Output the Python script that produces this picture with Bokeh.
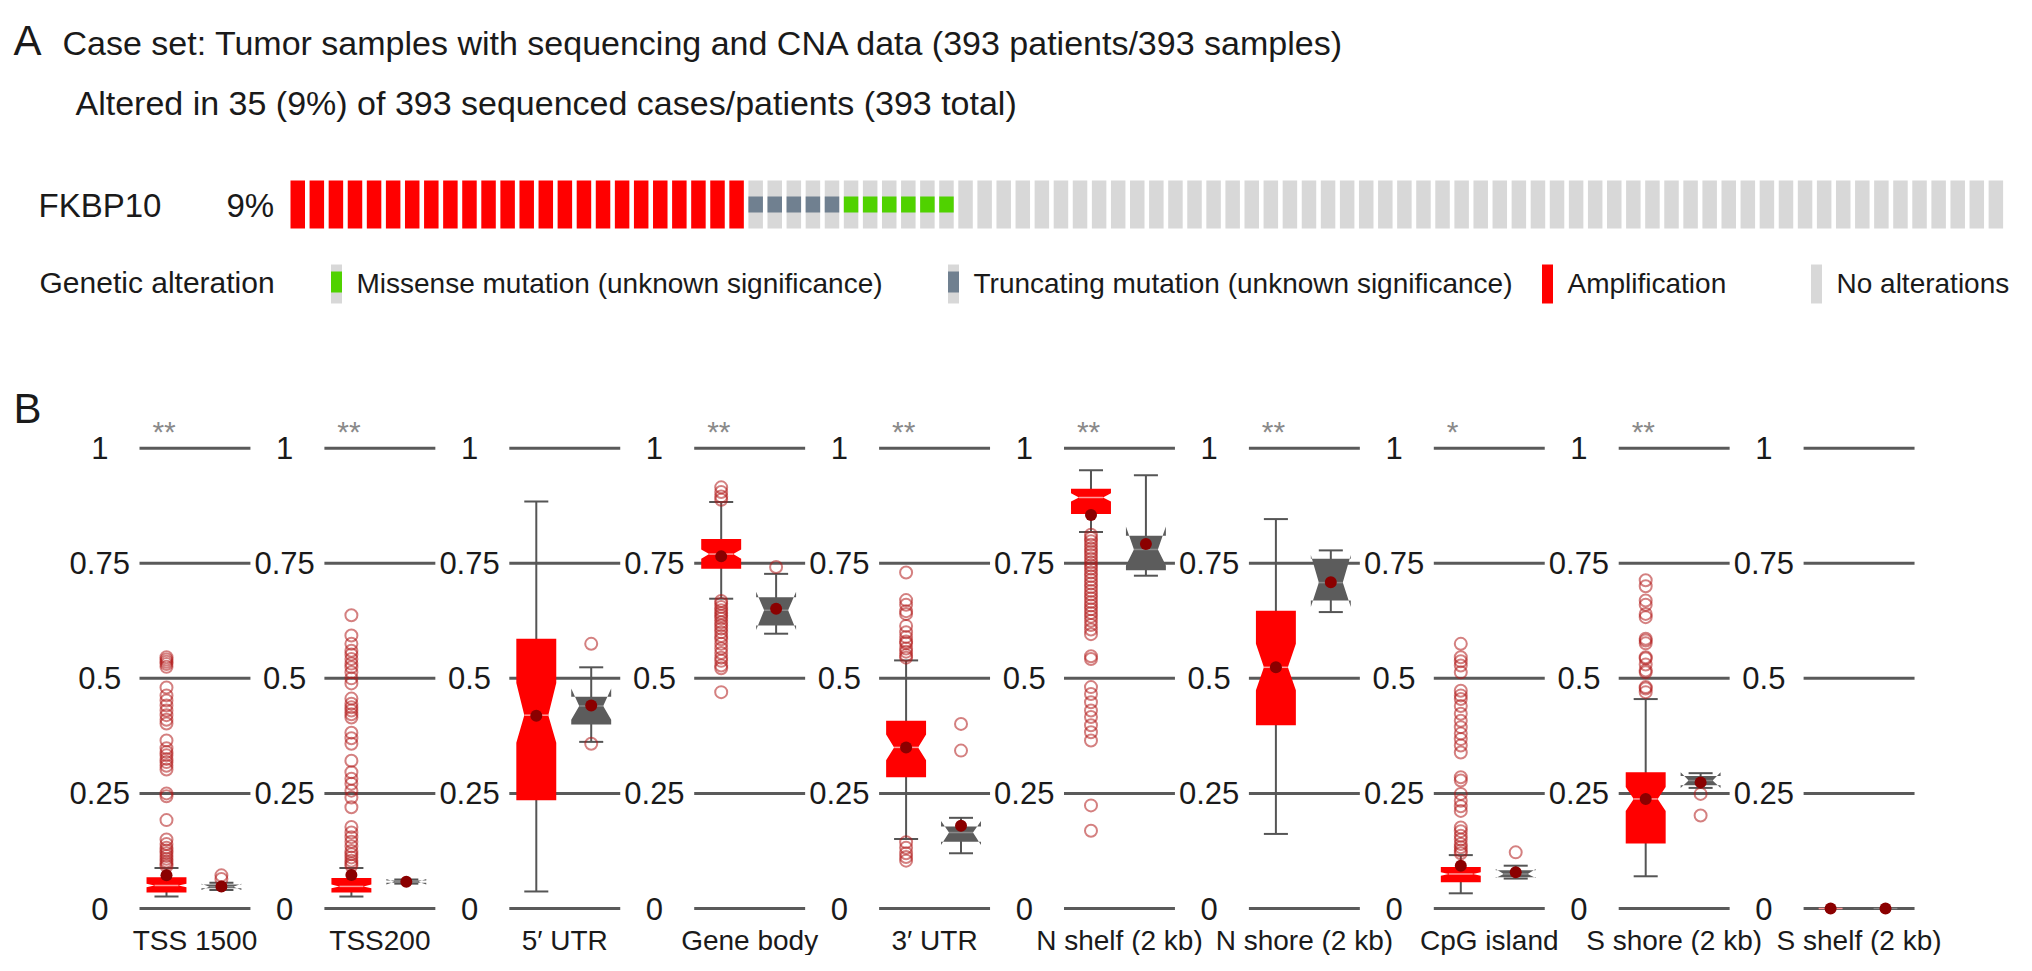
from bokeh.plotting import figure
from bokeh.models import Range1d, ColumnDataSource
from bokeh.layouts import column
from bokeh.embed import file_html
from bokeh.resources import INLINE
from bokeh.core.properties import value

FONT = "Liberation Sans"

# ---------------- Panel A data ----------------
case_set_text = "Case set: Tumor samples with sequencing and CNA data (393 patients/393 samples)"
altered_text = "Altered in 35 (9%) of 393 sequenced cases/patients (393 total)"
gene_name = "FKBP10"
gene_pct = "9%"
alteration_types = ["Amplification",
                    "Truncating mutation (unknown significance)",
                    "Missense mutation (unknown significance)",
                    "No alterations"]
alteration_counts = [24, 5, 6, 55]
legend_title = "Genetic alteration"
legend_order = ["Missense mutation (unknown significance)",
                "Truncating mutation (unknown significance)",
                "Amplification",
                "No alterations"]

# ---------------- Panel B data ----------------
regions = ["TSS 1500", "TSS200", "5\u2032 UTR", "Gene body", "3\u2032 UTR",
           "N shelf (2 kb)", "N shore (2 kb)", "CpG island", "S shore (2 kb)", "S shelf (2 kb)"]
significance = ["**", "**", "", "**", "**", "**", "**", "*", "**", ""]
y_ticks = [0, 0.25, 0.5, 0.75, 1]
y_tick_labels = ["0", "0.25", "0.5", "0.75", "1"]

# red (notched) group
red_q1 = [0.035, 0.035, 0.235, 0.738, 0.285, 0.857, 0.398, 0.057, 0.141, 0]
red_med = [0.050, 0.048, 0.420, 0.770, 0.350, 0.893, 0.524, 0.075, 0.238, 0]
red_q3 = [0.068, 0.066, 0.586, 0.803, 0.408, 0.912, 0.647, 0.090, 0.296, 0]
red_notch_lo = [0.046, 0.044, 0.360, 0.760, 0.322, 0.884, 0.474, 0.071, 0.212, 0]
red_notch_hi = [0.054, 0.052, 0.490, 0.780, 0.378, 0.902, 0.575, 0.079, 0.264, 0]
red_wlo = [0.026, 0.026, 0.037, 0.673, 0.151, 0.818, 0.162, 0.033, 0.070, 0]
red_whi = [0.088, 0.088, 0.884, 0.883, 0.539, 0.952, 0.846, 0.116, 0.455, 0]
red_mean = [0.072, 0.073, 0.419, 0.765, 0.350, 0.855, 0.524, 0.093, 0.238, 0]
red_outliers = [
    [0.546, 0.541, 0.536, 0.531, 0.525, 0.480, 0.463, 0.452, 0.441, 0.430, 0.420, 0.410, 0.402,
     0.365, 0.348, 0.340, 0.333, 0.325, 0.318, 0.310, 0.302, 0.250, 0.244, 0.192, 0.150, 0.140,
     0.132, 0.126, 0.120, 0.114, 0.108, 0.102, 0.097, 0.092],
    [0.637, 0.593, 0.575, 0.560, 0.552, 0.542, 0.532, 0.524, 0.513, 0.500, 0.489, 0.456, 0.445,
     0.437, 0.430, 0.422, 0.415, 0.382, 0.370, 0.358, 0.321, 0.296, 0.282, 0.271, 0.256, 0.241,
     0.220, 0.177, 0.165, 0.155, 0.145, 0.135, 0.125, 0.118, 0.111, 0.104, 0.098, 0.093],
    [],
    [0.915, 0.905, 0.895, 0.888, 0.668, 0.662, 0.655, 0.648, 0.642, 0.636, 0.630, 0.622, 0.615,
     0.608, 0.600, 0.592, 0.585, 0.575, 0.565, 0.555, 0.545, 0.538, 0.528, 0.522, 0.470],
    [0.730, 0.670, 0.660, 0.646, 0.640, 0.614, 0.600, 0.590, 0.580, 0.576, 0.565, 0.558, 0.550,
     0.545, 0.144, 0.132, 0.120, 0.112, 0.104],
    [0.812, 0.805, 0.798, 0.790, 0.782, 0.775, 0.768, 0.760, 0.752, 0.745, 0.738, 0.730, 0.722,
     0.714, 0.706, 0.698, 0.690, 0.682, 0.674, 0.666, 0.658, 0.650, 0.642, 0.634, 0.625, 0.616,
     0.606, 0.596, 0.548, 0.542, 0.481, 0.466, 0.448, 0.430, 0.416, 0.398, 0.383, 0.365, 0.224,
     0.169],
    [],
    [0.575, 0.546, 0.537, 0.528, 0.513, 0.473, 0.463, 0.455, 0.440, 0.423, 0.408, 0.394, 0.380,
     0.368, 0.354, 0.339, 0.285, 0.278, 0.249, 0.234, 0.222, 0.212, 0.176, 0.168, 0.158, 0.150,
     0.140, 0.133, 0.126, 0.120],
    [0.713, 0.700, 0.669, 0.660, 0.640, 0.633, 0.586, 0.582, 0.576, 0.546, 0.543, 0.530, 0.517,
     0.513, 0.481, 0.478, 0.470],
    [],
]

# gray group
gray_q1 = [0.044, 0.056, 0.400, 0.615, 0.145, 0.735, 0.669, 0.068, 0.268, 0]
gray_med = [0.047, 0.058, 0.440, 0.648, 0.165, 0.780, 0.708, 0.075, 0.278, 0]
gray_q3 = [0.052, 0.061, 0.460, 0.676, 0.178, 0.810, 0.760, 0.083, 0.288, 0]
gray_notch_lo = [0.040, 0.052, 0.410, 0.605, 0.138, 0.745, 0.655, 0.066, 0.262, 0]
gray_notch_hi = [0.054, 0.064, 0.478, 0.688, 0.190, 0.830, 0.768, 0.086, 0.296, 0]
gray_wlo = [0.040, 0.054, 0.362, 0.597, 0.120, 0.723, 0.644, 0.065, 0.262, 0]
gray_whi = [0.056, 0.063, 0.524, 0.727, 0.197, 0.941, 0.778, 0.093, 0.294, 0]
gray_mean = [0.048, 0.058, 0.441, 0.651, 0.180, 0.792, 0.709, 0.079, 0.274, 0]
gray_outliers = [[0.072, 0.064], [], [0.575, 0.358], [0.742], [0.401, 0.343],
                 [], [], [0.122], [0.249, 0.202], []]

# ---------------- styles ----------------
TXT = "#1a1a1a"
COL = {"Amplification": "#ff0000",
       "Truncating mutation (unknown significance)": "#708090",
       "Missense mutation (unknown significance)": "#50d200",
       "No alterations": "#d8d8d8"}
W = 2016
HA = 312
HB = 643
OFF = 0  # screen offset of the figure's top-left corner in reference pixels


def txt(p, xs, ys, texts, size, align="left", color=TXT, baseline="middle"):
    src = ColumnDataSource(dict(x=xs, y=ys, t=texts))
    p.text(x="x", y="y", text="t", source=src, text_font=value(FONT),
           text_font_size=value(size), text_color=color, text_align=align,
           text_baseline=baseline)


# ================= Panel A =================
pA = figure(width=W, height=HA, x_range=Range1d(OFF, OFF + W), y_range=Range1d(OFF + HA, OFF),
            x_axis_type=None, y_axis_type=None, toolbar_location=None,
            output_backend="svg", min_border=0, outline_line_color=None)

txt(pA, [13], [40], ["A"], "42px")
txt(pA, [62], [42], [case_set_text], "34px")
txt(pA, [75], [102], [altered_text], "34px")
txt(pA, [38], [205], [gene_name], "33px")
txt(pA, [226], [205], [gene_pct], "33px")

BAR_X0, PITCH, BAR_W = 290, 19.08, 14.5
col_types = []
for t, n in zip(alteration_types, alteration_counts):
    col_types += [t] * n
col_x = [BAR_X0 + PITCH * j + BAR_W / 2 for j in range(len(col_types))]
base_col = [COL["Amplification"] if t == "Amplification" else COL["No alterations"] for t in col_types]
pA.vbar(x=col_x, width=BAR_W, top=180, bottom=228, fill_color=base_col, line_color=None)
mut_x = [x for x, t in zip(col_x, col_types) if "mutation" in t]
mut_c = [COL[t] for t in col_types if "mutation" in t]
pA.vbar(x=mut_x, width=BAR_W, top=196, bottom=212, fill_color=mut_c, line_color=None)

# legend
txt(pA, [39], [282], [legend_title], "30px")
sw_x = [336, 953, 1547, 1816]
sw_w = 11
pA.vbar(x=sw_x, width=sw_w, top=264, bottom=303,
        fill_color=[COL["Amplification"] if t == "Amplification" else COL["No alterations"] for t in legend_order],
        line_color=None)
lm_x = [x for x, t in zip(sw_x, legend_order) if "mutation" in t]
lm_c = [COL[t] for t in legend_order if "mutation" in t]
pA.vbar(x=lm_x, width=sw_w, top=271, bottom=292, fill_color=lm_c, line_color=None)
txt(pA, [x + 20 for x in sw_x], [283] * 4, legend_order, "28px")

# ================= Panel B =================
# panel i horizontal lines start at reference x = 139 + 184.9*i ; value 1 at y=447.7, 0 at y=908
X0, XS = 139.0, 184.9
Y1, Y0 = 447.7, 908.0
ys_unit = Y0 - Y1
top_px = OFF + HA
bot_px = top_px + HB
pB = figure(width=W, height=HB,
            x_range=Range1d((OFF - X0) / XS, (OFF + W - X0) / XS),
            y_range=Range1d((Y0 - bot_px) / ys_unit, (Y0 - top_px) / ys_unit),
            x_axis_type=None, y_axis_type=None, toolbar_location=None,
            output_backend="svg", min_border=0, outline_line_color=None)

n = len(regions)
LINE_W = 0.60
RED_OFF, GRAY_OFF = 0.146, 0.443
BOX_H = 0.108
CAP_H = 0.065
NOTCH_F = 0.6

# horizontal reference lines per panel
g_x0, g_x1, g_y = [], [], []
for i in range(n):
    for t in y_ticks:
        g_x0.append(i); g_x1.append(i + LINE_W); g_y.append(t)
pB.segment(x0=g_x0, y0=g_y, x1=g_x1, y1=g_y, line_color="#5a5a5a", line_width=3)

# tick labels
tl_x, tl_y, tl_t = [], [], []
for i in range(n):
    for t, lab in zip(y_ticks, y_tick_labels):
        tl_x.append(i - 0.215); tl_y.append(t); tl_t.append(lab)
txt(pB, tl_x, tl_y, tl_t, "31px", align="center")

# region labels
txt(pB, [i + 0.30 for i in range(n)], [-0.069] * n, regions, "28px", align="center")
# significance
txt(pB, [i + 0.07 for i in range(n)], [1.036] * n, significance, "30px", color="#8a8a8a")
# panel letter
txt(pB, [(13 - X0) / XS], [1.086], ["B"], "42px")


def draw_group(off, q1, med, q3, nlo, nhi, wlo, whi, mean, outl, fill, med_col):
    cx = [i + off for i in range(n)]
    # whiskers
    pB.segment(x0=cx, y0=wlo, x1=cx, y1=whi, line_color="#555555", line_width=2)
    for w in (wlo, whi):
        pB.segment(x0=[c - CAP_H for c in cx], y0=w, x1=[c + CAP_H for c in cx], y1=w,
                   line_color="#555555", line_width=2)
    # notched boxes
    xs, ys = [], []
    for c, a, b, m, lo, hi in zip(cx, q1, q3, med, nlo, nhi):
        h = BOX_H
        xs.append([c - h, c - h, c - h * NOTCH_F, c - h, c - h, c + h, c + h, c + h * NOTCH_F, c + h, c + h])
        ys.append([a, lo, m, hi, b, b, hi, m, lo, a])
    pB.patches(xs=xs, ys=ys, fill_color=fill, line_color=None)
    pB.segment(x0=[c - BOX_H * NOTCH_F for c in cx], y0=med, x1=[c + BOX_H * NOTCH_F for c in cx], y1=med,
               line_color=med_col, line_width=1.5)
    # outliers
    ox, oy = [], []
    for c, lst in zip(cx, outl):
        ox += [c] * len(lst); oy += lst
    pB.scatter(x=ox, y=oy, marker="circle", size=12, fill_color=None,
               line_color="#b01818", line_alpha=0.55, line_width=2)
    # means
    pB.scatter(x=cx, y=mean, marker="circle", size=12, fill_color="#8b0000", line_color=None)


draw_group(RED_OFF, red_q1, red_med, red_q3, red_notch_lo, red_notch_hi, red_wlo, red_whi,
           red_mean, red_outliers, "#ff0000", "#ff9a9a")
draw_group(GRAY_OFF, gray_q1, gray_med, gray_q3, gray_notch_lo, gray_notch_hi, gray_wlo, gray_whi,
           gray_mean, gray_outliers, "#5c5c5c", "#8a8a8a")

layout = column(pA, pB, spacing=0)
open("out.html", "w").write(file_html(layout, INLINE))
